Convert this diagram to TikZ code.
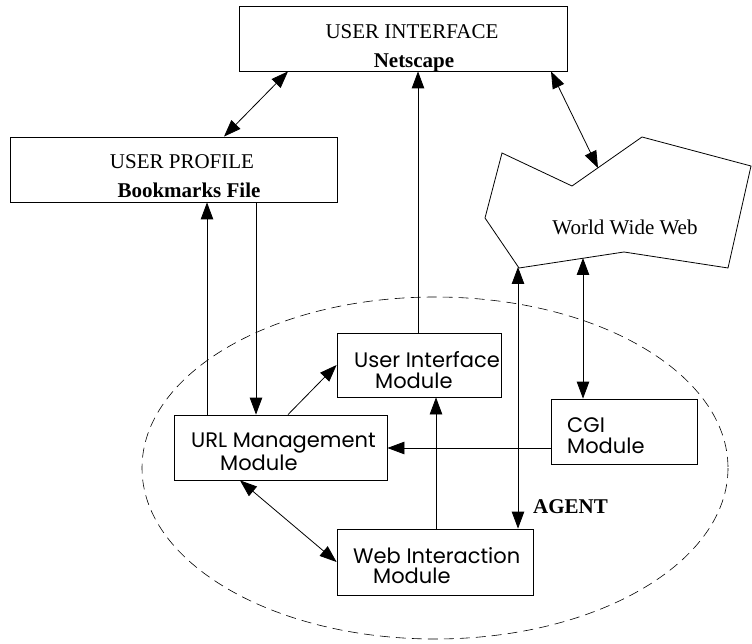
\documentclass[tikz,border=0pt]{standalone}
\usepackage{fontspec}
\setmainfont{Liberation Serif}
\newfontfamily\modfont{Poppins}
\usetikzlibrary{arrows.meta}

\tikzset{
  tip/.tip={Triangle[length=17pt,width=12.5pt]},
  box/.style={draw, line width=0.8pt, rectangle, inner sep=0pt},
  link/.style={line width=0.8pt, -tip},
  twoway/.style={line width=0.8pt, tip-tip},
  serif/.style={inner sep=0pt, anchor=base, font=\fontsize{21}{25}\selectfont},
  serifbold/.style={serif, font=\fontsize{21}{25}\selectfont\bfseries},
  modtext/.style={inner sep=0pt, anchor=base west, font=\modfont\fontsize{21}{25}\selectfont},
}

\begin{document}
\begin{tikzpicture}[x=1pt, y=-1pt]
\useasboundingbox (0,0) rectangle (752,644);

% agent boundary
\draw[line width=0.6pt, dash pattern=on 10pt off 6pt] (435,468) ellipse [x radius=293, y radius=171];

% outer components
\node[box, minimum width=328pt, minimum height=65pt] (ui) at (403,38.5) {};
\node[serif] (uit1) at (412,39) {USER INTERFACE};
\node[serifbold] (uit2) at (414,68) {Netscape};

\node[box, minimum width=327pt, minimum height=65pt] (up) at (173.5,169.5) {};
\node[serif] (upt1) at (182,169) {USER PROFILE};
\node[serifbold] (upt2) at (189,198) {Bookmarks File};

% the web, as an irregular outline
\coordinate (w1) at (502,153);
\coordinate (w2) at (572,186);
\coordinate (w3) at (642,137);
\coordinate (w4) at (751,166);
\coordinate (w5) at (728,268);
\coordinate (w6) at (624,252);
\coordinate (w7) at (519,268);
\coordinate (w8) at (485,218);
\draw[line width=0.8pt, line join=miter] (w1) -- (w2) -- (w3) -- (w4) -- (w5) -- (w6) -- (w7) -- (w8) -- cycle;
\node[serif] (wwwt) at (625,235) {World Wide Web};
\coordinate (wtop) at (598,168);
\coordinate (wb1) at (518,267);
\coordinate (wb2) at (583,258);

% agent modules
\node[box, minimum width=164pt, minimum height=64pt] (uim) at (419,365) {};
\node[modtext] (uimt1) at (354,367) {User Interface};
\node[modtext] (uimt2) at (375,388) {Module};

\node[box, minimum width=213pt, minimum height=65pt] (url) at (280.5,447.5) {};
\node[modtext] (urlt1) at (191,447) {URL Management};
\node[modtext] (urlt2) at (220,470) {Module};

\node[box, minimum width=146pt, minimum height=65pt] (cgi) at (624,431.5) {};
\node[modtext] (cgit1) at (567,432) {CGI};
\node[modtext] (cgit2) at (567,453) {Module};

\node[box, minimum width=196pt, minimum height=66pt] (wim) at (435,562) {};
\node[modtext] (wimt1) at (353,563) {Web Interaction};
\node[modtext] (wimt2) at (373,583) {Module};

\node[serifbold, anchor=base west] (agent) at (533,513) {AGENT};

% connector columns and rows
\coordinate (xa) at (288,0);
\coordinate (xb) at (224,0);
\coordinate (xc) at (551,0);
\coordinate (xd) at (418,0);
\coordinate (xe) at (207,0);
\coordinate (xf) at (256,0);
\coordinate (xg) at (436,0);
\coordinate (xh) at (240,0);
\coordinate (yh) at (0,448);

% connectors
\draw[twoway] (ui.south -| xa) -- (up.north -| xb);
\draw[twoway] (ui.south -| xc) -- (wtop);
\draw[link] (uim.north -| xd) -- (ui.south -| xd);
\draw[link] (url.north -| xe) -- (up.south -| xe);
\draw[link] (up.south -| xf) -- (url.north -| xf);
\draw[link] (url.north -| xa) -- (uim.west);
\draw[link] (cgi.west |- yh) -- (url.east |- yh);
\draw[link] (wim.north -| xg) -- (uim.south -| xg);
\draw[twoway] (wb1) -- (wim.north -| wb1);
\draw[twoway] (wb2) -- (cgi.north -| wb2);
\draw[twoway] (url.south -| xh) -- (wim.west);
\end{tikzpicture}
\end{document}
